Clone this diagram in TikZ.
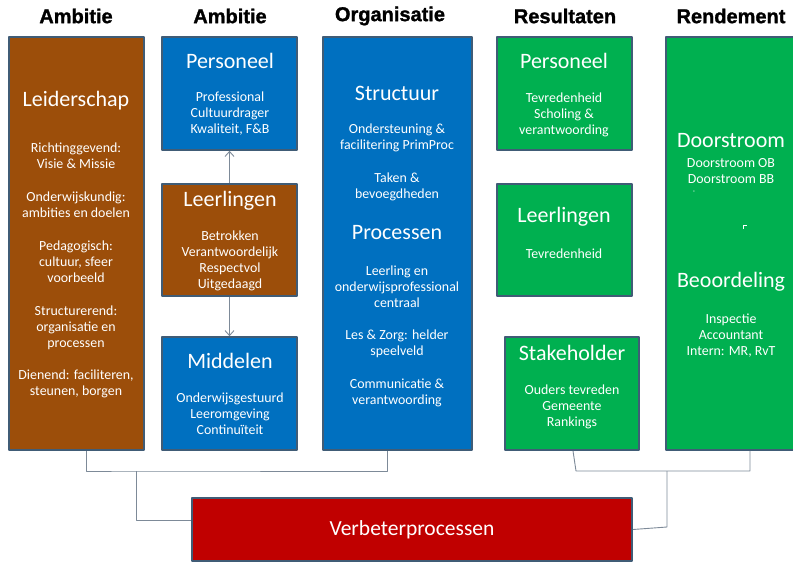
\documentclass[tikz,border=0pt]{standalone}
\usepackage{fontspec}
\setmainfont{Carlito}
\newfontfamily\headfont[BoldFeatures={FakeBold=1.3}]{Liberation Sans}
\usetikzlibrary{arrows.meta,fit}
\definecolor{bruin}{RGB}{156,78,10}
\definecolor{blauw}{RGB}{0,112,192}
\definecolor{groen}{RGB}{0,176,80}
\definecolor{rood}{RGB}{192,0,0}
\definecolor{rand}{RGB}{64,92,118}
\definecolor{lijn}{RGB}{125,138,152}
\tikzset{
  blok/.style={draw=rand, line width=1.6pt, inner sep=0pt},
  kop/.style={font=\headfont\bfseries\fontsize{20}{22}\selectfont, inner sep=0pt},
  titel/.style={text=white, font=\fontsize{22}{24}\selectfont, inner sep=0pt},
  tekst/.style={text=white, align=center, font=\fontsize{13.9}{16}\selectfont, inner sep=0pt},
  lijntje/.style={draw=lijn, line width=0.9pt},
}
\begin{document}
\begin{tikzpicture}[x=1pt, y=-1pt, line join=round, >={Straight Barb[length=5pt,width=9pt]}]
\clip (0,0) rectangle (793,563);
% kolomkoppen
\foreach \x/\t [count=\i] in {76/Ambitie,230/Ambitie,390/Organisatie,565/Resultaten,731/Rendement}
  \node[kop] (kop\i) at (\x,16) {\t};
% blokken
\node[blok, fill=bruin, fit={(9,37) (144,450)}] (leider) {};
\node[blok, fill=blauw, fit={(162,37) (297,150)}] (pers) {};
\node[blok, fill=bruin, fit={(162,184) (297,296)}] (leer) {};
\node[blok, fill=blauw, fit={(162,337) (297,450)}] (midd) {};
\node[blok, fill=blauw, fit={(323,37) (472,450)}] (org) {};
\node[blok, fill=groen, fit={(497,37) (632,150)}] (rpers) {};
\node[blok, fill=groen, fit={(497,184) (632,296)}] (rleer) {};
\node[blok, fill=groen, fit={(505,337) (639,450)}] (stake) {};
\node[blok, fill=groen, fit={(666,37) (800,450)}] (rend) {};
\node[blok, fill=rood, fit={(192,498) (632,561)}] (verb) {};
% pijlen
\draw[lijntje,->] (leer.north) -- (pers.south);
\draw[lijntje,->] (leer.south) -- (midd.north);
% verbindingen naar verbeterprocessen
\coordinate (kl) at (136,471);
\coordinate (kr) at (667,471);
\draw[lijntje] ([xshift=9.5pt]leider.south) |- (kl) -| ([xshift=-10.5pt]org.south);
\draw[lijntje] (kl) |- ([yshift=9.5pt]verb.west);
\draw[lijntje] ([xshift=1pt]stake.south) -- ([xshift=4pt]stake.south |- kr) -- (kr) -| ([xshift=17pt]rend.south);
\draw[lijntje] (kr) -- ++(0,56) -- (verb.east);
% Ambitie: leiderschap
\node[titel] (tleider) at (76,101) {Leiderschap};
\node[tekst] (l1) at (76,156) {Richtinggevend:\\Visie \& Missie};
\node[tekst] (l2) at (76,205) {Onderwijskundig:\\ambities en doelen};
\node[tekst] (l3) at (76,262) {Pedagogisch:\\cultuur, sfeer\\voorbeeld};
\node[tekst] (l4) at (76,327.5) {Structurerend:\\organisatie en\\processen};
\node[tekst] (l5) at (76,384) {Dienend: faciliteren,\\steunen, borgen};
% Ambitie: personeel, leerlingen, middelen
\node[titel] (tpers) at (230,61) {Personeel};
\node[tekst] (p1) at (230,114) {Professional\\Cultuurdrager\\Kwaliteit, F\&B};
\node[titel] (tleer) at (230,201) {Leerlingen};
\node[tekst] (e1) at (230,261) {Betrokken\\Verantwoordelijk\\Respectvol\\Uitgedaagd};
\node[titel] (tmidd) at (230,361) {Middelen};
\node[tekst] (m1) at (230,414) {Onderwijsgestuurd\\Leeromgeving\\Continuïteit};
% Organisatie
\node[titel] (tstruc) at (397,93) {Structuur};
\node[tekst] (o1) at (397,138) {Ondersteuning \&\\facilitering PrimProc};
\node[tekst] (o2) at (397,186.5) {Taken \&\\bevoegdheden};
\node[titel] (tproc) at (397,233) {Processen};
\node[tekst] (o3) at (397,286.5) {Leerling en\\onderwijsprofessional\\centraal};
\node[tekst] (o4) at (397,344) {Les \& Zorg: helder\\speelveld};
\node[tekst] (o5) at (397,393) {Communicatie \&\\verantwoording};
% Resultaten
\node[titel] (trpers) at (564,61) {Personeel};
\node[tekst] (r1) at (564,114.5) {Tevredenheid\\Scholing \&\\verantwoording};
\node[titel] (trleer) at (564,217) {Leerlingen};
\node[tekst] (r2) at (564,254) {Tevredenheid};
\node[titel] (tstake) at (572,353) {Stakeholder};
\node[tekst] (r3) at (572,406.5) {Ouders tevreden\\Gemeente\\Rankings};
% Rendement
\node[titel] (tdoor) at (731,141) {Doorstroom};
\node[tekst] (d1) at (731,171) {Doorstroom OB\\Doorstroom BB};
\node[tekst, font=\fontsize{7}{7}\selectfont] (streep) at (694,192) {-};
\draw[white, line width=0.7pt] (743,229) |- (747,225.5);
\node[titel] (tbeoor) at (731,282) {Beoordeling};
\node[tekst] (b1) at (731,336) {Inspectie\\Accountant\\Intern: MR, RvT};
% verbeterprocessen
\node[titel, font=\fontsize{21.5}{24}\selectfont] (tverb) at (verb) {Verbeterprocessen};
\end{tikzpicture}
\end{document}
